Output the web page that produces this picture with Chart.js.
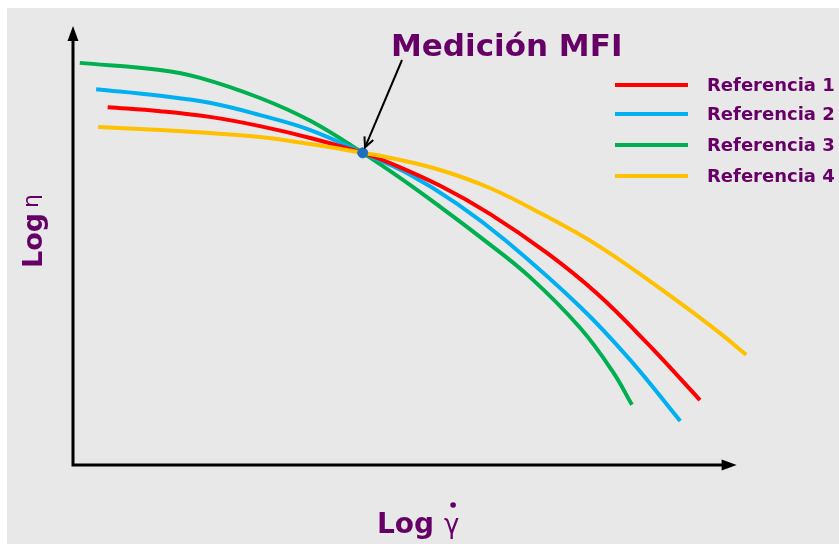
<!DOCTYPE html>
<html>
<head>
<meta charset="utf-8">
<script src="https://cdn.jsdelivr.net/npm/chart.js@4.4.1/dist/chart.umd.min.js"></script>
<style>
  html, body { margin: 0; padding: 0; background: #fff; }
</style>
</head>
<body>
<canvas id="mfiChart" width="839" height="544"></canvas>
<script>
const seriesNames = ['Referencia 1', 'Referencia 2', 'Referencia 3', 'Referencia 4'];
const seriesColors = ['#ff0000', '#00b0f0', '#00b050', '#ffc000'];

// log(shear rate) vs log(viscosity), arbitrary units (no ticks on the sketch)
const ref1X = [0.51, 1.28, 2.01, 2.75, 3.49, 4.26, 4.66, 5.40, 6.13, 6.97, 7.71, 8.44, 9.22];
const ref1Y = [8.15, 8.06, 7.93, 7.72, 7.45, 7.11, 6.88, 6.36, 5.72, 4.83, 3.90, 2.78, 1.48];
const ref2X = [0.34, 1.28, 2.01, 2.75, 3.49, 4.26, 4.91, 5.65, 6.38, 7.46, 8.19, 8.93];
const ref2Y = [8.56, 8.41, 8.25, 7.97, 7.63, 7.11, 6.65, 5.95, 5.09, 3.60, 2.40, 1.00];
const ref3X = [0.10, 1.28, 1.87, 2.75, 3.49, 4.26, 4.81, 5.40, 5.99, 6.72, 7.46, 7.94, 8.22];
const ref3Y = [9.16, 9.00, 8.82, 8.36, 7.84, 7.11, 6.54, 5.88, 5.19, 4.28, 3.12, 2.12, 1.37];
const ref4X = [0.37, 1.28, 2.01, 2.75, 3.49, 4.26, 4.66, 5.40, 6.13, 6.87, 7.75, 8.93, 9.51, 9.90];
const ref4Y = [7.70, 7.63, 7.56, 7.47, 7.31, 7.11, 7.00, 6.72, 6.31, 5.74, 4.97, 3.69, 3.01, 2.51];
const mfiX = [4.26];
const mfiY = [7.11];

const seriesX = [ref1X, ref2X, ref3X, ref4X];
const seriesY = [ref1Y, ref2Y, ref3Y, ref4Y];
const drawOrder = [2, 3, 4, 1]; // yellow sits on top at the crossing

const purple = '#660066';
const bg = '#e8e8e8';

const datasets = seriesNames.map((name, i) => ({
  label: name,
  data: seriesX[i].map((x, j) => ({ x: x, y: seriesY[i][j] })),
  borderColor: seriesColors[i],
  borderWidth: 4,
  pointRadius: 0,
  tension: 0.4,
  order: drawOrder[i],
  clip: false
}));

datasets.push({
  label: 'Medición MFI',
  data: mfiX.map((x, j) => ({ x: x, y: mfiY[j] })),
  showLine: false,
  pointRadius: 5,
  pointBackgroundColor: '#1f6fc0',
  pointBorderColor: '#1f6fc0',
  order: 0
});

function arrowHead(ctx, x1, y1, x2, y2, len, open) {
  const a = Math.atan2(y2 - y1, x2 - x1);
  const w = open ? 0.45 : 0.35;
  ctx.beginPath();
  ctx.moveTo(x2 - len * Math.cos(a - w), y2 - len * Math.sin(a - w));
  ctx.lineTo(x2, y2);
  ctx.lineTo(x2 - len * Math.cos(a + w), y2 - len * Math.sin(a + w));
  if (open) {
    ctx.stroke();
  } else {
    ctx.closePath();
    ctx.fill();
  }
}

const sketchPlugin = {
  id: 'sketch',
  beforeDraw(chart) {
    const ctx = chart.ctx;
    ctx.save();
    ctx.fillStyle = '#ffffff';
    ctx.fillRect(0, 0, chart.width, chart.height);
    ctx.fillStyle = bg;
    ctx.fillRect(7, 8, chart.width - 7, chart.height - 8);
    ctx.restore();
  },
  beforeDatasetsDraw(chart) {
    const ctx = chart.ctx;
    const xs = chart.scales.x, ys = chart.scales.y;
    const x0 = xs.getPixelForValue(0);
    const y0 = ys.getPixelForValue(0);
    const yTop = ys.getPixelForValue(10);
    const xEnd = xs.getPixelForValue(9.76);
    ctx.save();
    ctx.strokeStyle = '#000';
    ctx.fillStyle = '#000';
    ctx.lineWidth = 3;
    ctx.beginPath();
    ctx.moveTo(x0, yTop + 12);
    ctx.lineTo(x0, y0);
    ctx.lineTo(xEnd - 12, y0);
    ctx.stroke();
    arrowHead(ctx, x0, y0, x0, yTop, 16, false);
    arrowHead(ctx, x0, y0, xEnd, y0, 16, false);
    ctx.restore();
  },
  afterDraw(chart) {
    const ctx = chart.ctx;
    const xs = chart.scales.x, ys = chart.scales.y;
    ctx.save();

    // annotation arrow
    const px = xs.getPixelForValue(mfiX[0]);
    const py = ys.getPixelForValue(mfiY[0]);
    const sx = 402, sy = 60;
    const d = Math.hypot(px - sx, py - sy);
    const ex = px + (sx - px) / d * 6, ey = py + (sy - py) / d * 6;
    ctx.strokeStyle = '#000';
    ctx.lineWidth = 2;
    ctx.beginPath();
    ctx.moveTo(sx, sy);
    ctx.lineTo(ex, ey);
    ctx.stroke();
    arrowHead(ctx, sx, sy, ex, ey, 11, true);

    ctx.fillStyle = purple;
    ctx.textBaseline = 'alphabetic';
    ctx.textAlign = 'left';
    ctx.font = 'bold 31px "DejaVu Sans"';
    ctx.fillText('Medición MFI', 391, 56);

    // legend
    ctx.font = 'bold 18px "DejaVu Sans"';
    const legY = [85, 114, 145, 176];
    seriesNames.forEach((name, i) => {
      ctx.strokeStyle = seriesColors[i];
      ctx.lineWidth = 4;
      ctx.beginPath();
      ctx.moveTo(615, legY[i]);
      ctx.lineTo(688, legY[i]);
      ctx.stroke();
      ctx.fillText(name, 707, legY[i] + 6);
    });

    // x axis label
    ctx.font = 'bold 28px "DejaVu Sans"';
    ctx.fillText('Log', 377, 533);
    const lw = ctx.measureText('Log').width;
    ctx.font = '26px "DejaVu Sans"';
    ctx.fillText('γ', 377 + lw + 10, 533);
    ctx.beginPath();
    ctx.arc(377 + lw + 19, 505, 2.8, 0, Math.PI * 2);
    ctx.fill();

    // y axis label
    ctx.translate(42, 268);
    ctx.rotate(-Math.PI / 2);
    ctx.font = 'bold 27px "DejaVu Sans"';
    ctx.fillText('Log', 0, 0);
    const lw2 = ctx.measureText('Log').width;
    ctx.font = '22px "DejaVu Sans"';
    ctx.fillText('η', lw2 + 5, -4);

    ctx.restore();
  }
};

const ctxElem = document.getElementById('mfiChart').getContext('2d');

const mfiConfig = {
  type: 'line',
  data: { datasets: datasets },
  options: {
    responsive: false,
    animation: false,
    layout: {
      padding: { left: 73, right: 86, top: 26, bottom: 79 }
    },
    scales: {
      x: { type: 'linear', min: 0, max: 10, display: false },
      y: { type: 'linear', min: 0, max: 10, display: false }
    },
    plugins: {
      legend: { display: false },
      title: { display: false },
      tooltip: { enabled: false }
    }
  },
  plugins: [sketchPlugin]
};

const mfiChart = new Chart(ctxElem, mfiConfig);
</script>
</body>
</html>
